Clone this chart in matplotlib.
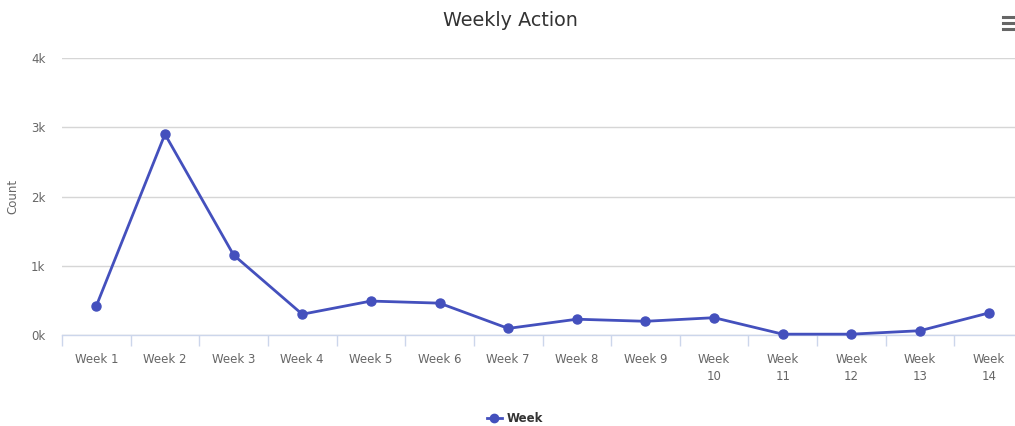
import matplotlib.pyplot as plt
from matplotlib.lines import Line2D

# Данные графика
weeks = ['Week 1', 'Week 2', 'Week 3', 'Week 4', 'Week 5', 'Week 6', 'Week 7',
         'Week 8', 'Week 9', 'Week\n10', 'Week\n11', 'Week\n12', 'Week\n13', 'Week\n14']
counts = [420, 2900, 1155, 300, 490, 460, 95, 228, 198, 250, 12, 12, 62, 318]
y_ticks = [0, 1000, 2000, 3000, 4000]
y_tick_labels = ['0k', '1k', '2k', '3k', '4k']

line_color = '#4450bd'
text_color = '#666666'

plt.rcParams['font.family'] = ['DejaVu Sans']

fig = plt.figure(figsize=(10.15, 4.26), dpi=100)
ax = fig.add_axes([62 / 1015, (426 - 335) / 426, (1023 - 62) / 1015, (335 - 58) / 426])

x = list(range(len(weeks)))
ax.plot(x, counts, color=line_color, linewidth=2, marker='o', markersize=6.5,
        label='Week', clip_on=False, zorder=3)

ax.set_xlim(-0.5, len(weeks) - 0.5)
ax.set_ylim(0, 4000)

# Сетка по оси Y
ax.set_yticks(y_ticks)
ax.set_yticklabels(y_tick_labels)
ax.grid(axis='y', color='#d6d6d6', linewidth=1)
ax.set_axisbelow(True)

# Метки по оси X и деления между категориями
ax.set_xticks(x)
ax.set_xticklabels(weeks, linespacing=1.35)
ax.set_xticks([i - 0.5 for i in range(len(weeks) + 1)], minor=True)
ax.tick_params(axis='x', which='major', length=0, pad=13, labelsize=8.5, colors=text_color)
ax.tick_params(axis='x', which='minor', length=8, width=1, color='#ccd6eb')
ax.tick_params(axis='y', length=0, pad=12, labelsize=8.5, colors=text_color)

for side in ['top', 'right', 'left']:
    ax.spines[side].set_visible(False)
ax.spines['bottom'].set_color('#ccd6eb')
ax.spines['bottom'].set_linewidth(1)

ax.set_ylabel('Count', fontsize=8.5, color=text_color)
ax.yaxis.set_label_coords(-0.044, 0.5)

fig.text(510 / 1015, 1 - 20 / 426, 'Weekly Action', ha='center', va='center',
         fontsize=13.8, color='#333333')

# Легенда внизу
leg = fig.legend(handles=[Line2D([0], [0], color=line_color, linewidth=2, marker='o', markersize=6)],
                 labels=['Week'], loc='center', bbox_to_anchor=(515 / 1015, 1 - 419 / 426),
                 frameon=False, handlelength=1.3, handletextpad=0.4, prop={'weight': 'bold', 'size': 8.5})
for t in leg.get_texts():
    t.set_color('#333333')

# Иконка меню в правом верхнем углу
for yy in [17, 23, 29]:
    fig.add_artist(Line2D([1003 / 1015, 1015 / 1015], [1 - yy / 426, 1 - yy / 426],
                          color='#666666', linewidth=2.2))

fig.savefig('out.png', dpi=100)
